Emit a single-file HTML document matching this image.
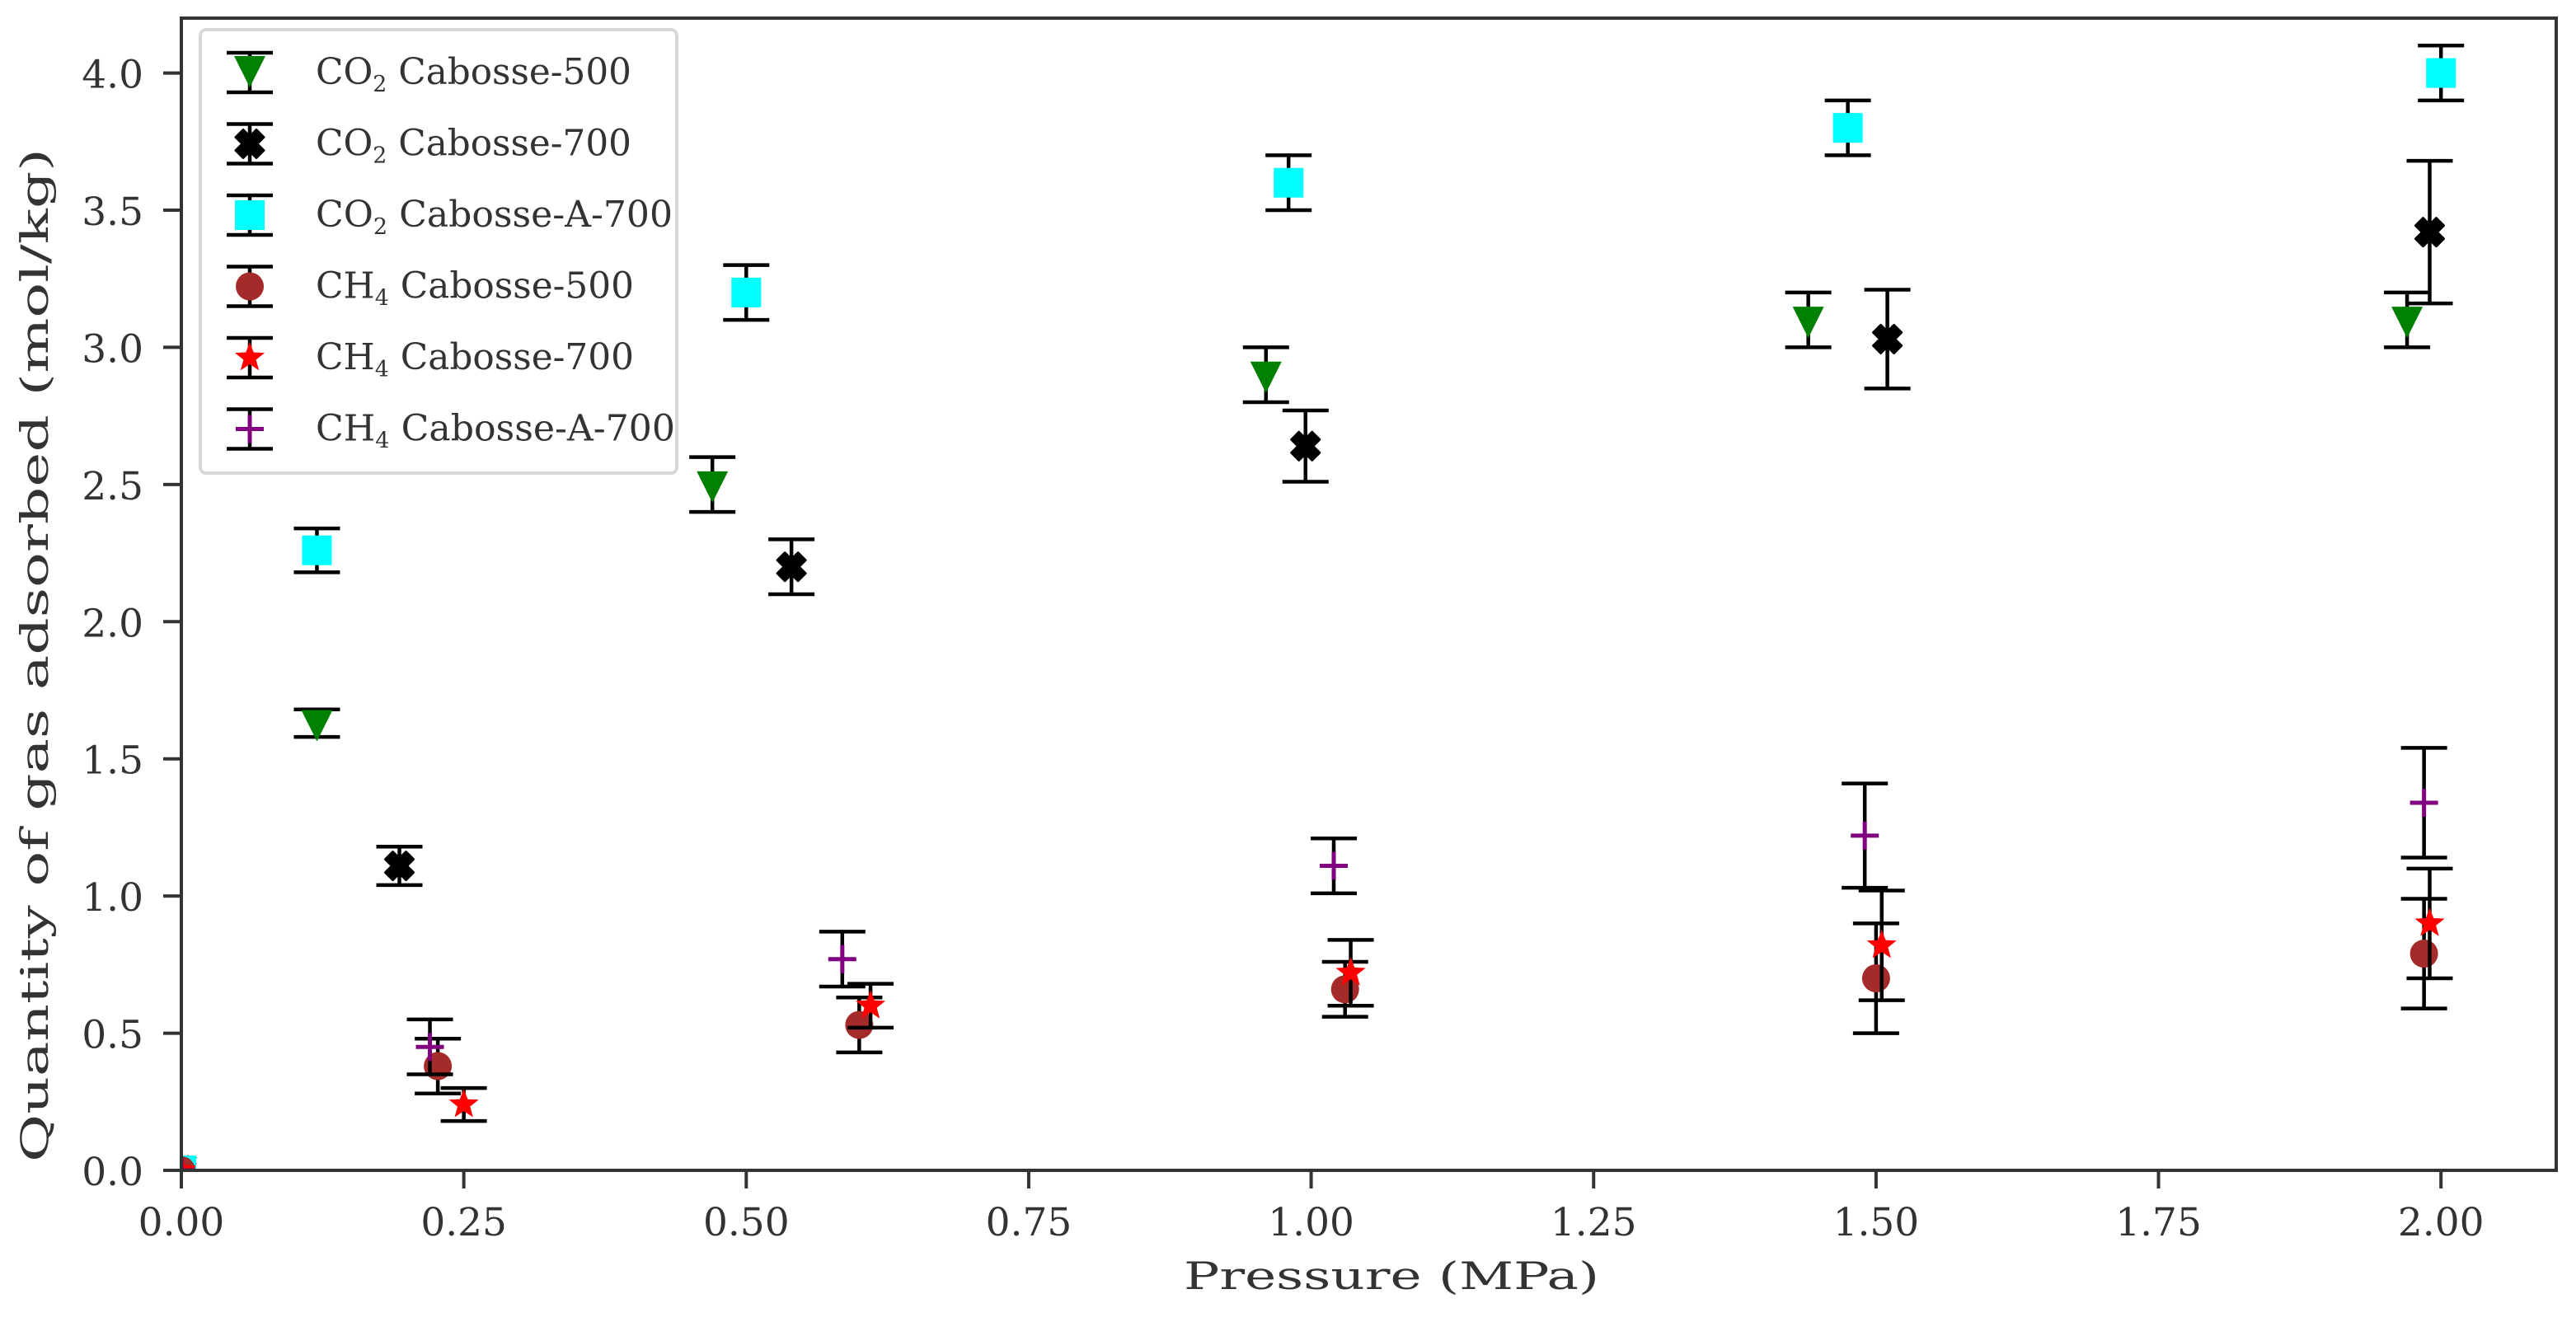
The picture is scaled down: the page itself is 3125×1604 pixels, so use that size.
<!DOCTYPE html>
<html><head><meta charset="utf-8"><style>
html,body{margin:0;padding:0;background:#fff;}
svg{display:block;}
text{font-family:"DejaVu Serif","Liberation Serif",serif;fill:#333;}
</style></head><body>
<svg id="chart" width="3125" height="1604" viewBox="0 0 3125 1604" xmlns="http://www.w3.org/2000/svg">
<defs><clipPath id="plotclip"><rect x="220" y="22" width="2881" height="1398"/></clipPath></defs>
<g id="marks" clip-path="url(#plotclip)"></g>
<g id="axes"></g>
<g id="legend"></g>
</svg>
<script>
const xTicks = [0, 0.25, 0.5, 0.75, 1.0, 1.25, 1.5, 1.75, 2.0];
const xTickLabels = ["0.00","0.25","0.50","0.75","1.00","1.25","1.50","1.75","2.00"];
const yTicks = [0, 0.5, 1.0, 1.5, 2.0, 2.5, 3.0, 3.5, 4.0];
const yTickLabels = ["0.0","0.5","1.0","1.5","2.0","2.5","3.0","3.5","4.0"];
const seriesNames = ["CO2 Cabosse-500","CO2 Cabosse-700","CO2 Cabosse-A-700","CH4 Cabosse-500","CH4 Cabosse-700","CH4 Cabosse-A-700"];
const co2_500_x = [0, 0.12, 0.47, 0.96, 1.44, 1.97];
const co2_500_y = [0, 1.63, 2.5, 2.9, 3.1, 3.1];
const co2_500_e = [0, 0.05, 0.1, 0.1, 0.1, 0.1];
const co2_700_x = [0, 0.193, 0.54, 0.995, 1.51, 1.99];
const co2_700_y = [0, 1.11, 2.2, 2.64, 3.03, 3.42];
const co2_700_e = [0, 0.07, 0.1, 0.13, 0.18, 0.26];
const co2_a700_x = [0, 0.12, 0.5, 0.98, 1.475, 2.0];
const co2_a700_y = [0, 2.26, 3.2, 3.6, 3.8, 4.0];
const co2_a700_e = [0, 0.08, 0.1, 0.1, 0.1, 0.1];
const ch4_500_x = [0, 0.227, 0.6, 1.03, 1.5, 1.985];
const ch4_500_y = [0, 0.38, 0.53, 0.66, 0.70, 0.79];
const ch4_500_e = [0, 0.1, 0.1, 0.1, 0.2, 0.2];
const ch4_700_x = [0, 0.25, 0.61, 1.035, 1.505, 1.99];
const ch4_700_y = [0, 0.24, 0.6, 0.72, 0.82, 0.9];
const ch4_700_e = [0, 0.06, 0.08, 0.12, 0.2, 0.2];
const ch4_a700_x = [0, 0.22, 0.585, 1.02, 1.49, 1.985];
const ch4_a700_y = [0, 0.45, 0.77, 1.11, 1.22, 1.34];
const ch4_a700_e = [0, 0.1, 0.1, 0.1, 0.19, 0.2];

const NS = "http://www.w3.org/2000/svg";
const L = 220, R = 3101, T = 22, B = 1420;
const X0 = 0, X1 = 2.102, Y0 = 0, Y1 = 4.2;
function sx(v){ return L + (v - X0) / (X1 - X0) * (R - L); }
function sy(v){ return B - (v - Y0) / (Y1 - Y0) * (B - T); }
function mk(tag, attrs, parent){ const e = document.createElementNS(NS, tag); for (const k in attrs) e.setAttribute(k, attrs[k]); parent.appendChild(e); return e; }

const marks = document.getElementById('marks');
const axes = document.getElementById('axes');
const legend = document.getElementById('legend');

function drawMarker(type, cx, cy, parent){
  let e;
  if (type === 'tri') {
    e = mk('polygon', {points: `${cx-19},${cy-16} ${cx+19},${cy-16} ${cx},${cy+22}`, fill:'#008000'}, parent);
  } else if (type === 'x') {
    const s = 17, w = 9;
    e = mk('polygon', {points: `${cx-s+w},${cy-s} ${cx},${cy-w} ${cx+s-w},${cy-s} ${cx+s},${cy-s+w} ${cx+w},${cy} ${cx+s},${cy+s-w} ${cx+s-w},${cy+s} ${cx},${cy+w} ${cx-s+w},${cy+s} ${cx-s},${cy+s-w} ${cx-w},${cy} ${cx-s},${cy-s+w}`, fill:'#000', stroke:'#000', 'stroke-width':3, 'stroke-linejoin':'round'}, parent);
  } else if (type === 'sq') {
    e = mk('rect', {x: cx-18, y: cy-18, width: 36, height: 36, fill:'#00ffff'}, parent);
  } else if (type === 'circ') {
    e = mk('circle', {cx: cx, cy: cy, r: 17, fill:'#a52a2a'}, parent);
  } else if (type === 'star') {
    let p = [];
    for (let i = 0; i < 10; i++) { const r = i % 2 ? 8 : 19; const a = -Math.PI/2 + i*Math.PI/5; p.push((cx + r*Math.cos(a)).toFixed(1) + ',' + (cy + r*Math.sin(a)).toFixed(1)); }
    e = mk('polygon', {points: p.join(' '), fill:'#ff0000'}, parent);
  } else {
    e = mk('path', {d: `M${cx-17},${cy}H${cx+17}M${cx},${cy-17}V${cy+17}`, stroke:'#800080', 'stroke-width':5, fill:'none'}, parent);
  }
  return e;
}

const allSeries = [
  {xs: co2_500_x, ys: co2_500_y, es: co2_500_e, m:'tri', id:'co2-cabosse-500'},
  {xs: co2_700_x, ys: co2_700_y, es: co2_700_e, m:'x', id:'co2-cabosse-700'},
  {xs: co2_a700_x, ys: co2_a700_y, es: co2_a700_e, m:'sq', id:'co2-cabosse-a-700'},
  {xs: ch4_500_x, ys: ch4_500_y, es: ch4_500_e, m:'circ', id:'ch4-cabosse-500'},
  {xs: ch4_700_x, ys: ch4_700_y, es: ch4_700_e, m:'star', id:'ch4-cabosse-700'},
  {xs: ch4_a700_x, ys: ch4_a700_y, es: ch4_a700_e, m:'plus', id:'ch4-cabosse-a-700'}
];

allSeries.forEach(s => {
  const g = mk('g', {}, marks);
  
  
  for (let i = 0; i < s.xs.length; i++) {
    const cx = sx(s.xs[i]), cy = sy(s.ys[i]);
    if (s.es[i] > 0) {
      const top = sy(s.ys[i] + s.es[i]), bot = sy(s.ys[i] - s.es[i]);
      const eb = mk('path', {d: `M${cx},${top}V${bot}M${cx-28},${top}H${cx+28}M${cx-28},${bot}H${cx+28}`, stroke:'#000', 'stroke-width':4.5, fill:'none'}, g);
      
      
    }
    const p = drawMarker(s.m, cx, cy, g);
    
    
  }
});

const frame = mk('rect', {x: L, y: T, width: R-L, height: B-T, fill:'none', stroke:'#333', 'stroke-width':4}, axes);


xTicks.forEach((v, i) => {
  const x = sx(v);
  const t = mk('line', {x1:x, x2:x, y1:B, y2:B+22, stroke:'#333', 'stroke-width':4}, axes);
  
  
  const lb = mk('text', {x:x, y:1499, 'text-anchor':'middle', 'font-size':47}, axes);
  lb.textContent = xTickLabels[i];
  
  
});
yTicks.forEach((v, i) => {
  const y = sy(v);
  const t = mk('line', {x1:L-22, x2:L, y1:y, y2:y, stroke:'#333', 'stroke-width':4}, axes);
  
  
  const lb = mk('text', {x:174, y:y+18, 'text-anchor':'end', 'font-size':47}, axes);
  lb.textContent = yTickLabels[i];
  
  
});
const xt = mk('text', {x:1436, y:1564, 'font-size':46, textLength:504, lengthAdjust:'spacingAndGlyphs'}, axes);
xt.textContent = 'Pressure (MPa)';


const yt = mk('text', {x:0, y:0, 'text-anchor':'middle', 'font-size':46, textLength:1230, lengthAdjust:'spacingAndGlyphs', transform:`translate(58,795) rotate(-90)`}, axes);
yt.textContent = 'Quantity of gas adsorbed  (mol/kg)';



const lbox = mk('rect', {x:243, y:36, width:578, height:538, rx:7, fill:'#fff', 'fill-opacity':0.85, stroke:'#d8d8d8', 'stroke-width':4}, legend);


const legLabels = [["CO","2"," Cabosse-500"],["CO","2"," Cabosse-700"],["CO","2"," Cabosse-A-700"],["CH","4"," Cabosse-500"],["CH","4"," Cabosse-700"],["CH","4"," Cabosse-A-700"]];
const legLens = [383, 383, 433, 386, 386, 436];
allSeries.forEach((s, i) => {
  const cy = 88 + i * 86.5, cx = 303;
  const g = mk('g', {}, legend);
  
  
  mk('path', {d:`M${cx},${cy-24}V${cy+24}M${cx-28},${cy-24}H${cx+28}M${cx-28},${cy+24}H${cx+28}`, stroke:'#000', 'stroke-width':4.5, fill:'none'}, g);
  drawMarker(s.m, cx, cy - (s.m==='tri'?4:0), g);
  const t = mk('text', {x:383, y:cy+14, 'font-size':44}, g);
  const a = document.createElementNS(NS, 'tspan'); a.textContent = legLabels[i][0]; t.appendChild(a);
  const b = document.createElementNS(NS, 'tspan'); b.setAttribute('font-size', 27); b.setAttribute('dy', 9); b.textContent = legLabels[i][1]; t.appendChild(b);
  const c = document.createElementNS(NS, 'tspan'); c.setAttribute('dy', -9); c.textContent = legLabels[i][2]; t.appendChild(c);
  t.setAttribute('textLength', legLens[i]);
  t.setAttribute('lengthAdjust', 'spacingAndGlyphs');
});
</script>
</body></html>
